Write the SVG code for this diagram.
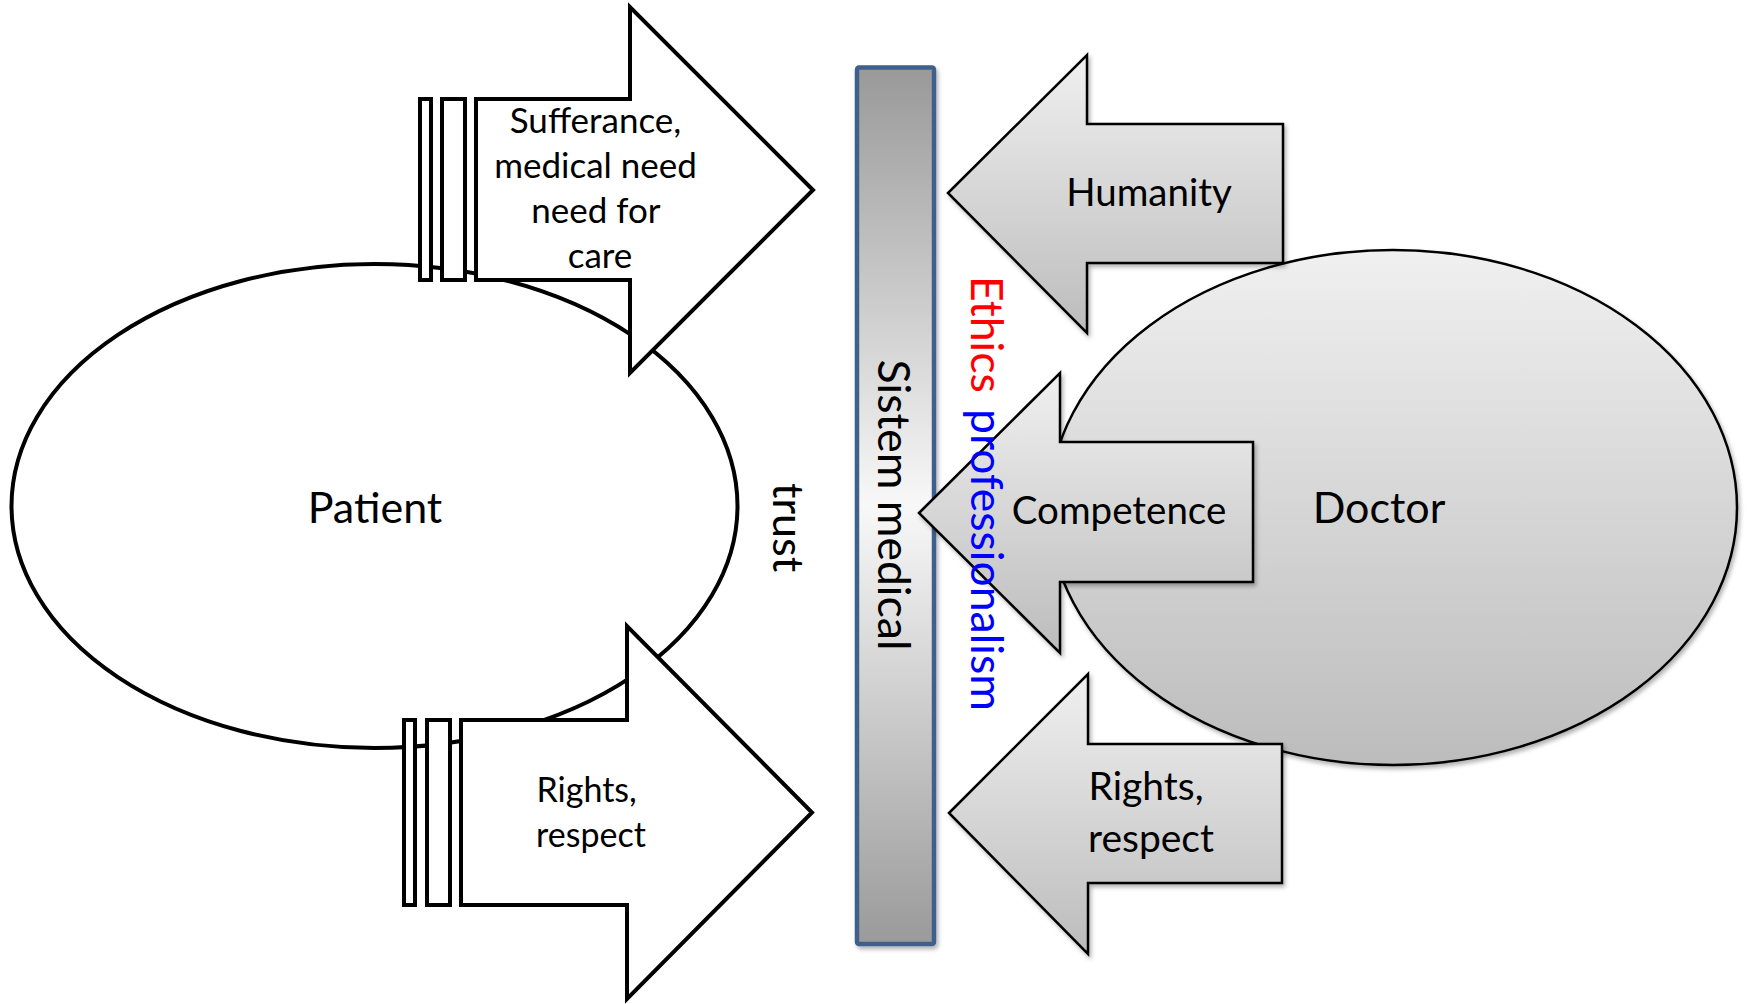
<svg xmlns="http://www.w3.org/2000/svg" width="1750" height="1004" viewBox="0 0 1750 1004">
  <defs>
    <linearGradient id="grayFill" x1="0" y1="0" x2="0" y2="1">
      <stop offset="0" stop-color="#f0f0f0"/>
      <stop offset="1" stop-color="#bcbcbc"/>
    </linearGradient>
    <linearGradient id="barFill" x1="0" y1="0" x2="0" y2="1">
      <stop offset="0" stop-color="#999999"/>
      <stop offset="0.5" stop-color="#f8f8f8"/>
      <stop offset="1" stop-color="#9a9a9a"/>
    </linearGradient>
    <filter id="softShadow" x="-10%" y="-10%" width="125%" height="125%">
      <feDropShadow dx="2" dy="3" stdDeviation="2" flood-color="#000" flood-opacity="0.3"/>
    </filter>
  </defs>
  <style>
    .label { font-family: Lato, "Open Sans", "Liberation Sans", sans-serif; fill: #000; text-anchor: middle; }
    .outline { fill: #fff; stroke: #000; stroke-width: 4; stroke-linejoin: miter; }
    .gray { fill: url(#grayFill); stroke: #000; stroke-width: 2.5; stroke-linejoin: miter; filter: url(#softShadow); }
  </style>

  <!-- Patient side -->
  <g id="patient">
    <ellipse cx="374.5" cy="506" rx="363" ry="242" fill="#fff" stroke="#000" stroke-width="4"/>
    <text class="label" x="375" y="523" font-size="43">Patient</text>
  </g>

  <!-- Doctor side -->
  <g id="doctor">
    <ellipse cx="1393" cy="507.5" rx="344" ry="257.5" fill="url(#grayFill)" stroke="#000" stroke-width="2.5" filter="url(#softShadow)"/>
    <text class="label" x="1379" y="523" font-size="43">Doctor</text>
  </g>

  <!-- Central medical system bar -->
  <g id="sistem-medical">
    <rect x="857" y="67.5" width="77" height="876.5" rx="2" fill="url(#barFill)" stroke="#3f618c" stroke-width="4.5" filter="url(#softShadow)"/>
    <text class="label" font-size="44.5" transform="translate(878,505) rotate(90)">Sistem medical</text>
  </g>

  <g id="trust">
    <text class="label" font-size="43" transform="translate(773,527.5) rotate(90)">trust</text>
  </g>

  <!-- Patient needs arrow -->
  <g id="arrow-needs">
    <path class="outline" d="M476,99 H630 V7 L813,190 L630,373 V280 H476 Z"/>
    <rect class="outline" x="420" y="99" width="11" height="181"/>
    <rect class="outline" x="442" y="99" width="23" height="181"/>
    <text class="label" font-size="35">
      <tspan x="600" y="133">Sufferance,</tspan>
      <tspan x="600" y="178">medical need</tspan>
      <tspan x="600" y="223">need for</tspan>
      <tspan x="600" y="268">care</tspan>
    </text>
  </g>

  <!-- Patient rights arrow -->
  <g id="arrow-patient-rights">
    <path class="outline" d="M461,720 H627 V626 L812,812.5 L627,999 V905 H461 Z"/>
    <rect class="outline" x="404" y="720" width="11" height="185"/>
    <rect class="outline" x="427" y="720" width="23" height="185"/>
    <text class="label" font-size="34">
      <tspan x="591" y="802">Rights,</tspan>
      <tspan x="591" y="847">respect</tspan>
    </text>
  </g>

  <!-- Doctor arrows -->
  <g id="arrow-humanity">
    <path class="gray" d="M948,193 L1087,55 V124 H1283 V263 H1087 V333 Z"/>
    <text class="label" x="1149" y="206" font-size="38.5">Humanity</text>
  </g>

  <g id="arrow-competence">
    <path class="gray" d="M919,513 L1060,373 V442 H1253 V582 H1060 V653 Z"/>
    <text class="label" x="1119" y="524" font-size="38.5">Competence</text>
  </g>

  <g id="arrow-doctor-rights">
    <path class="gray" d="M949,813 L1088,674 V744 H1282 V883 H1088 V954 Z"/>
    <text class="label" font-size="39">
      <tspan x="1151" y="800">Rights,</tspan>
      <tspan x="1151" y="852">respect</tspan>
    </text>
  </g>

  <!-- Ethics and professionalism, written vertically -->
  <g id="ethics-professionalism">
    <text class="label" font-size="44.5" style="text-anchor:start" transform="translate(971,0) rotate(90)">
      <tspan x="276" y="0" fill="#ff0000">Ethics</tspan>
      <tspan x="409" y="0" fill="#0000ff">professionalism</tspan>
    </text>
  </g>
</svg>
